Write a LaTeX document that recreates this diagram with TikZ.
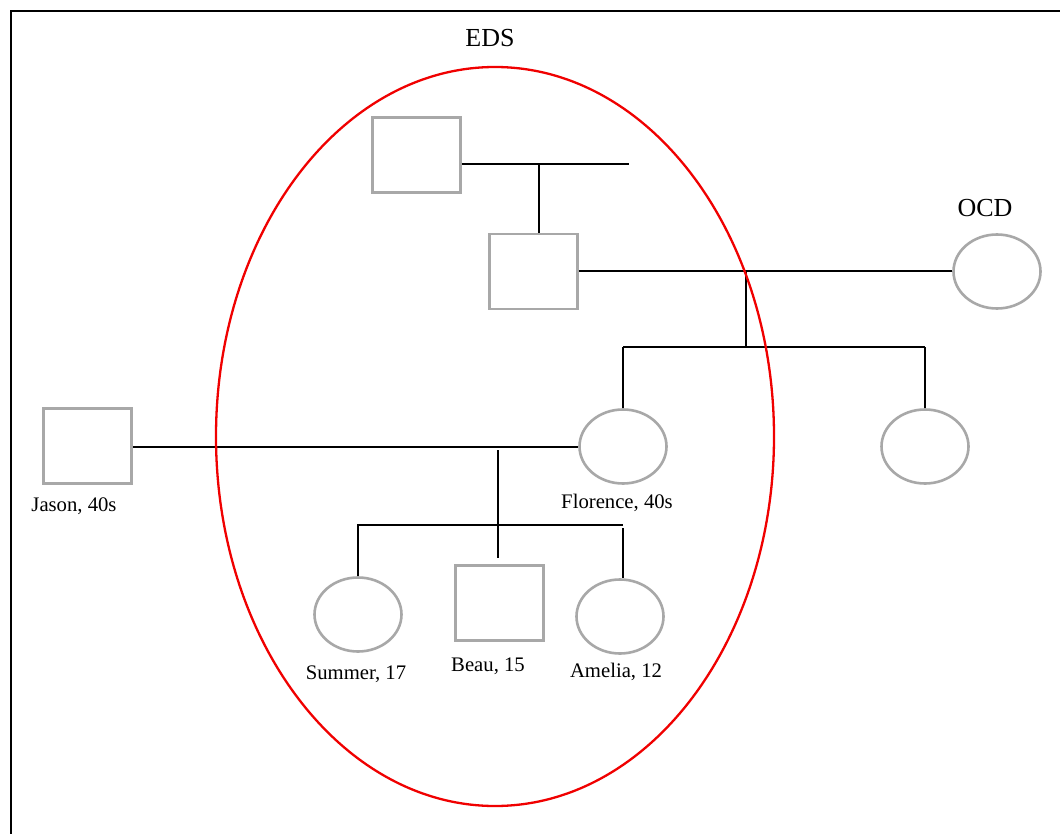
\documentclass[tikz,border=0pt]{standalone}
\usepackage{fontspec}
\setmainfont{Liberation Serif}
\usetikzlibrary{shapes.geometric}
\definecolor{pgray}{RGB}{168,168,168}
\definecolor{pred}{RGB}{240,0,0}
\tikzset{
  male/.style={draw=pgray, line width=2.6pt, rectangle, minimum width=88pt, minimum height=75pt, inner sep=0pt},
  female/.style={draw=pgray, line width=2.6pt, ellipse, minimum width=87pt, minimum height=74pt, inner sep=0pt},
  conn/.style={draw=black, line width=1.1pt},
  lbl/.style={font=\fontsize{20.7}{24}\selectfont, inner sep=0pt},
  biglbl/.style={font=\fontsize{26}{30}\selectfont, inner sep=0pt}
}
\begin{document}
\begin{tikzpicture}[x=1pt,y=-1pt]
\useasboundingbox (0,0) rectangle (1060,834);
\fill[white] (0,0) rectangle (1060,834);
\coordinate (bl) at (11,834);
\coordinate (tl) at (11,11);
\coordinate (tr) at (1060,11);
\draw[line width=2.4pt] (bl) -- (tl) -- (tr);

% people
\node[male] (gf) at (416.5,155) {};
\node[male] (fa) at (533.5,271.5) {};
\node[female] (ocd) at (997,271.5) {};
\node[female] (flo) at (623,446.5) {};
\node[female] (sis) at (925,446.5) {};
\node[male] (jas) at (87.5,446) {};
\node[female] (sum) at (358,614.5) {};
\node[male] (beau) at (499.5,603) {};
\node[female] (ame) at (620,616.5) {};

% labels
\node[biglbl] (eds) at (490,38) {EDS};
\node[biglbl] (ocdl) at (985,208) {OCD};
\node[lbl] (jasl) at (74,506) {Jason, 40s};
\node[lbl] (flol) at (617,503) {Florence, 40s};
\node[lbl] (suml) at (356,674) {Summer, 17};
\node[lbl] (beaul) at (488,666) {Beau, 15};
\node[lbl] (amel) at (616,672) {Amelia, 12};

% connectors
\coordinate (gfend) at (629,164);
\coordinate (gfdrop) at (539,164);
\draw[conn] (gf.east |- gfend) -- (gfend);
\draw[conn] (gfdrop) -- (gfdrop |- fa.north);

\draw[conn] (fa.east |- 0,271) -- (ocd.west |- 0,271);
\coordinate (pdropT) at (746,271);
\coordinate (pdropB) at (746,346);
\draw[conn] (pdropT) -- (pdropB);
\coordinate (sibL) at (623,347);
\coordinate (sibR) at (925,347);
\draw[conn] (sibL) -- (sibR);
\draw[conn] (sibL) -- (flo.north);
\draw[conn] (sibR) -- (sis.north);

\draw[conn] (jas.east |- 0,447) -- (flo.west |- 0,447);
\coordinate (cdropT) at (498,450);
\coordinate (cdropB) at (498,558);
\draw[conn] (cdropT) -- (cdropB);
\coordinate (kidL) at (357,525);
\coordinate (kidR) at (623,525);
\draw[conn] (kidL) -- (kidR);
\draw[conn] (358,525) -- (sum.north);
\coordinate (ameT) at (623,528);
\draw[conn] (ameT) -- (ameT |- 0,578);

% EDS circle
\draw[pred, line width=2.3pt] (495,436.5) ellipse [x radius=279, y radius=369.5];
\end{tikzpicture}
\end{document}
